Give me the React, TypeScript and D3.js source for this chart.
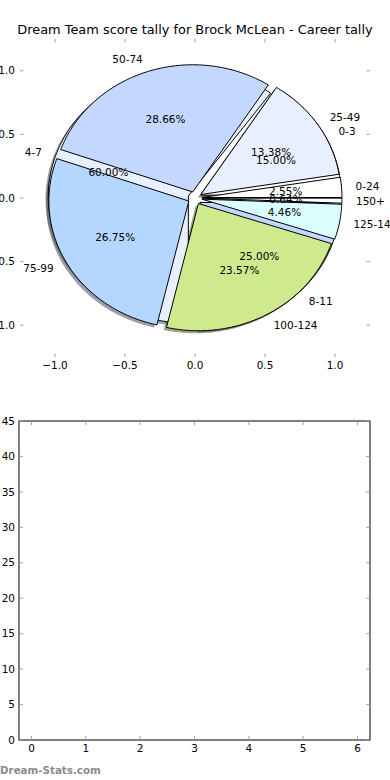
import * as d3 from 'd3';

// Score tally (games per points band)
const scoreRanges = ['0-24', '25-49', '50-74', '75-99', '100-124', '125-149', '150+'];
const scoreCounts = [4, 21, 45, 42, 37, 7, 1];

// Second pie drawn underneath (goal bands)
const goalRanges = ['0-3', '4-7', '8-11'];
const goalCounts = [3, 12, 5];

const sliceColors = ['#ffffff', '#e8efff', '#c4d8ff', '#b4d6ff', '#cfea8c', '#dafefe', '#ffffff'];

const pieTicks = [-1.0, -0.5, 0.0, 0.5, 1.0];
const barXTicks = [0, 1, 2, 3, 4, 5, 6];
const barYTicks = [0, 5, 10, 15, 20, 25, 30, 35, 40, 45];

const title = 'Dream Team score tally for Brock McLean - Career tally';
const font = '"DejaVu Sans", sans-serif';
const tickGray = '#a0a0a0';

const W = 390;
const H = 780;

// pie axes box
const pieBox = { left: 20, right: 370, top: 39, bottom: 357 };
// bar axes box
const barBox = { left: 19, right: 370, top: 421, bottom: 740 };

const px = d3.scaleLinear().domain([-1.25, 1.25]).range([pieBox.left, pieBox.right]);
const py = d3.scaleLinear().domain([-1.25, 1.25]).range([pieBox.bottom, pieBox.top]);

const bx = d3.scaleLinear().domain([-0.23, 6.23]).range([barBox.left, barBox.right]);
const by = d3.scaleLinear().domain([0, 45]).range([barBox.bottom, barBox.top]);

const explode = 0.05;

type Slice = {
  label: string;
  pct: number;
  color: string;
  path: string;
  shadow: string;
  labelX: number;
  labelY: number;
  anchor: string;
  pctX: number;
  pctY: number;
};

const line = d3
  .line<[number, number]>()
  .x((d) => px(d[0]))
  .y((d) => py(d[1]))
  .curve(d3.curveLinearClosed);

function buildSlices(values: number[], labels: string[]): Slice[] {
  const total = d3.sum(values);
  let start = 0;
  return values.map((v, i) => {
    const frac = v / total;
    const t1 = start * 2 * Math.PI;
    const t2 = (start + frac) * 2 * Math.PI;
    start += frac;
    const mid = (t1 + t2) / 2;
    const cx = explode * Math.cos(mid);
    const cy = explode * Math.sin(mid);
    const n = Math.max(2, Math.ceil(((t2 - t1) * 180) / Math.PI));
    const pts: [number, number][] = [[cx, cy]];
    for (let k = 0; k <= n; k++) {
      const t = t1 + ((t2 - t1) * k) / n;
      pts.push([cx + Math.cos(t), cy + Math.sin(t)]);
    }
    const shadowPts = pts.map((p) => [p[0] - 0.02, p[1] - 0.02] as [number, number]);
    const lx = cx + 1.1 * Math.cos(mid);
    const ly = cy + 1.1 * Math.sin(mid);
    return {
      label: labels[i],
      pct: frac * 100,
      color: sliceColors[i],
      path: line(pts) || '',
      shadow: line(shadowPts) || '',
      labelX: px(lx),
      labelY: py(ly),
      anchor: lx > 0 ? 'start' : 'end',
      pctX: px(cx + 0.6 * Math.cos(mid)),
      pctY: py(cy + 0.6 * Math.sin(mid)),
    };
  });
}

function darker(c: string) {
  const rgb = d3.rgb(c);
  return d3.rgb(rgb.r * 0.3, rgb.g * 0.3, rgb.b * 0.3).toString();
}

export default function App() {
  const scoreSlices = buildSlices(scoreCounts, scoreRanges);
  const goalSlices = buildSlices(goalCounts, goalRanges);
  const allSlices = [...goalSlices, ...scoreSlices];

  return (
    <svg
      width={W}
      height={H}
      style={{ position: 'absolute', left: 0, top: 0, background: '#fff' }}
      fontFamily={font}
    >
      <rect width={W} height={H} fill="#fff" />
      <text x={195} y={34} fontSize={12.9} textAnchor="middle" fill="#000">
        {title}
      </text>

      {/* pie axes ticks (no frame) */}
      {pieTicks.map((t) => (
        <g key={'px' + t}>
          <line x1={px(t)} x2={px(t)} y1={pieBox.top} y2={pieBox.top + 3.5} stroke={tickGray} />
          <line x1={px(t)} x2={px(t)} y1={pieBox.bottom} y2={pieBox.bottom - 3.5} stroke={tickGray} />
          <text x={px(t)} y={pieBox.bottom + 12} fontSize={10.5} textAnchor="middle">
            {t < 0 ? '\u2212' + Math.abs(t).toFixed(1) : t.toFixed(1)}
          </text>
        </g>
      ))}
      {pieTicks.map((t) => (
        <g key={'py' + t}>
          <line x1={pieBox.left} x2={pieBox.left + 3.5} y1={py(t)} y2={py(t)} stroke={tickGray} />
          <line x1={pieBox.right} x2={pieBox.right - 3.5} y1={py(t)} y2={py(t)} stroke={tickGray} />
          <text x={pieBox.left - 5} y={py(t)} dy="0.35em" fontSize={10.5} textAnchor="end">
            {t < 0 ? '\u2212' + Math.abs(t).toFixed(1) : t.toFixed(1)}
          </text>
        </g>
      ))}

      {/* shadows */}
      {allSlices.map((s, i) => (
        <path key={'sh' + i} d={s.shadow} fill={darker(s.color)} fillOpacity={0.5} stroke="none" />
      ))}
      {/* wedges: goal pie below, score pie on top */}
      {allSlices.map((s, i) => (
        <path key={'w' + i} d={s.path} fill={s.color} stroke="#000" strokeWidth={1} strokeLinejoin="round" />
      ))}
      {allSlices.map((s, i) => (
        <g key={'t' + i} fontSize={10.5} fill="#000">
          <text x={s.labelX} y={s.labelY} dy="0.35em" textAnchor={s.anchor}>
            {s.label}
          </text>
          <text x={s.pctX} y={s.pctY} dy="0.35em" textAnchor="middle">
            {s.pct.toFixed(2) + '%'}
          </text>
        </g>
      ))}

      {/* empty bar axes */}
      <rect
        x={barBox.left}
        y={barBox.top}
        width={barBox.right - barBox.left}
        height={barBox.bottom - barBox.top}
        fill="none"
        stroke="#000"
        strokeWidth={1}
      />
      {barXTicks.map((t) => (
        <g key={'bx' + t}>
          <line x1={bx(t)} x2={bx(t)} y1={barBox.top + 0.5} y2={barBox.top + 4} stroke={tickGray} />
          <line x1={bx(t)} x2={bx(t)} y1={barBox.bottom - 0.5} y2={barBox.bottom - 4} stroke={tickGray} />
          <text x={bx(t)} y={barBox.bottom + 12} fontSize={10.5} textAnchor="middle">
            {t}
          </text>
        </g>
      ))}
      {barYTicks.map((t) => (
        <g key={'by' + t}>
          <line x1={barBox.left + 0.5} x2={barBox.left + 4} y1={by(t)} y2={by(t)} stroke={tickGray} />
          <line x1={barBox.right - 0.5} x2={barBox.right - 4} y1={by(t)} y2={by(t)} stroke={tickGray} />
          <text x={barBox.left - 4} y={by(t)} dy="0.35em" fontSize={10.5} textAnchor="end">
            {t}
          </text>
        </g>
      ))}

      <text x={0} y={774} fontSize={10.3} fontWeight="bold" fill="#8c8c8c">
        Dream-Stats.com
      </text>
    </svg>
  );
}
